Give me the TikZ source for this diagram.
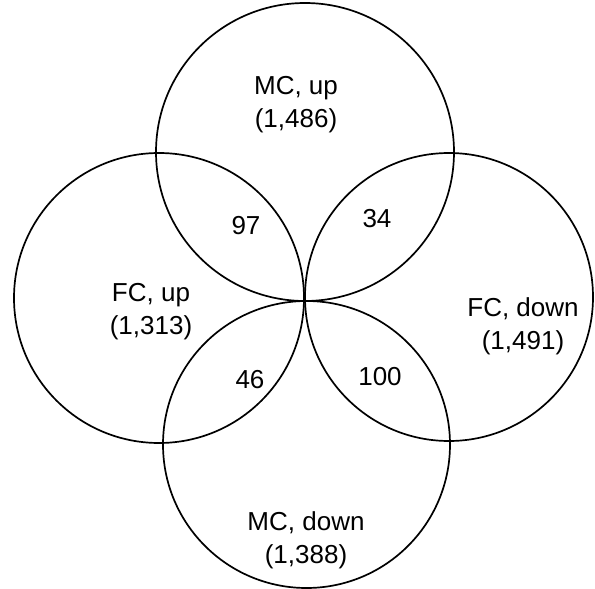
\documentclass[tikz,border=0pt]{standalone}
\usepackage{fontspec}
\setmainfont{Liberation Sans}
\begin{document}
\begin{tikzpicture}[x=1pt,y=-1pt,
  ring/.style={draw=black,line width=1.7pt,fill=none},
  lbl/.style={font=\fontsize{26}{33}\selectfont,align=center,inner sep=0pt}]
\useasboundingbox (0,0) rectangle (595,589);
\draw[ring] (305,152) circle[radius=149pt];
\draw[ring] (159,298) circle[radius=145pt];
\draw[ring] (449,297) circle[radius=144pt];
\draw[ring] (306.5,444.5) circle[radius=143.5pt];
\node[lbl] (mcup) at (296,105) {MC, up\\(1,486)};
\node[lbl] (fcup) at (151,312) {FC, up\\(1,313)};
\node[lbl] (fcdown) at (523,326) {FC, down\\(1,491)};
\node[lbl] (mcdown) at (306,540) {MC, down\\(1,388)};
\node[lbl] (n97) at (246,226) {97};
\node[lbl] (n34) at (377,219) {34};
\node[lbl] (n46) at (250,380) {46};
\node[lbl] (n100) at (380,377) {100};
\end{tikzpicture}
\end{document}
